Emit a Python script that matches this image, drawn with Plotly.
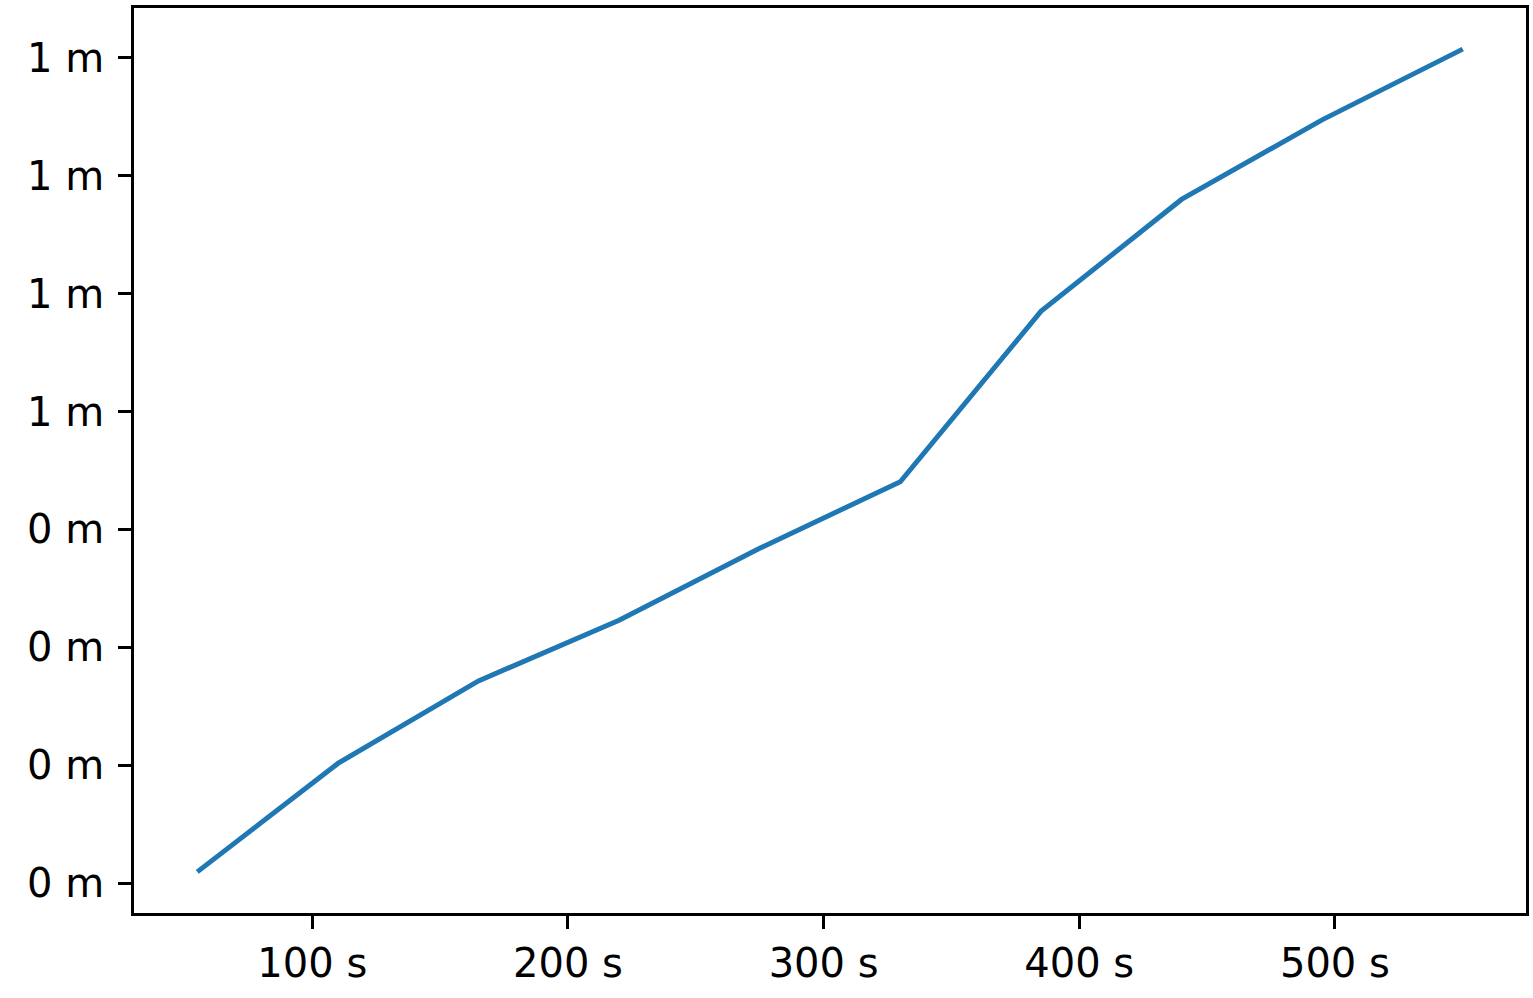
import plotly.graph_objects as go

x_seconds = [55, 110, 165, 220, 275, 330, 385, 440, 495, 550]
y_values = [0.219, 0.403, 0.543, 0.646, 0.768, 0.881, 1.170, 1.360, 1.495, 1.615]

x_tick_vals = [100, 200, 300, 400, 500]
x_tick_labels = ["100 s", "200 s", "300 s", "400 s", "500 s"]
y_tick_vals = [0.2, 0.4, 0.6, 0.8, 1.0, 1.2, 1.4, 1.6]
y_tick_labels = ["0 m", "0 m", "0 m", "0 m", "1 m", "1 m", "1 m", "1 m"]

fig = go.Figure()
fig.add_trace(go.Scatter(x=x_seconds, y=y_values, mode="lines",
                         line=dict(color="#1f77b4", width=5)))

xmin, xmax = min(x_seconds), max(x_seconds)
ymin, ymax = min(y_values), max(y_values)
xp = (xmax - xmin) * 0.05
yp = (ymax - ymin) * 0.05

axis_common = dict(showgrid=False, zeroline=False, showline=True, linecolor="black",
                   linewidth=2.5, mirror=True, ticks="outside", ticklen=13,
                   tickwidth=2.5, tickcolor="black",
                   tickfont=dict(family="DejaVu Sans", size=40, color="black"))

fig.update_xaxes(range=[xmin - xp, xmax + xp], tickvals=x_tick_vals,
                 ticktext=x_tick_labels, ticklabelstandoff=0, **axis_common)
fig.update_yaxes(range=[ymin - yp, ymax + yp], tickvals=y_tick_vals,
                 ticktext=y_tick_labels, ticklabelstandoff=6, **axis_common)

fig.update_layout(width=1533, height=998, showlegend=False,
                  paper_bgcolor="white", plot_bgcolor="white",
                  margin=dict(l=134, r=4, t=8, b=85))

fig.write_html("out.html", config={"displayModeBar": False},
               post_script="document.body.style.margin='0';document.body.style.overflow='hidden';")
